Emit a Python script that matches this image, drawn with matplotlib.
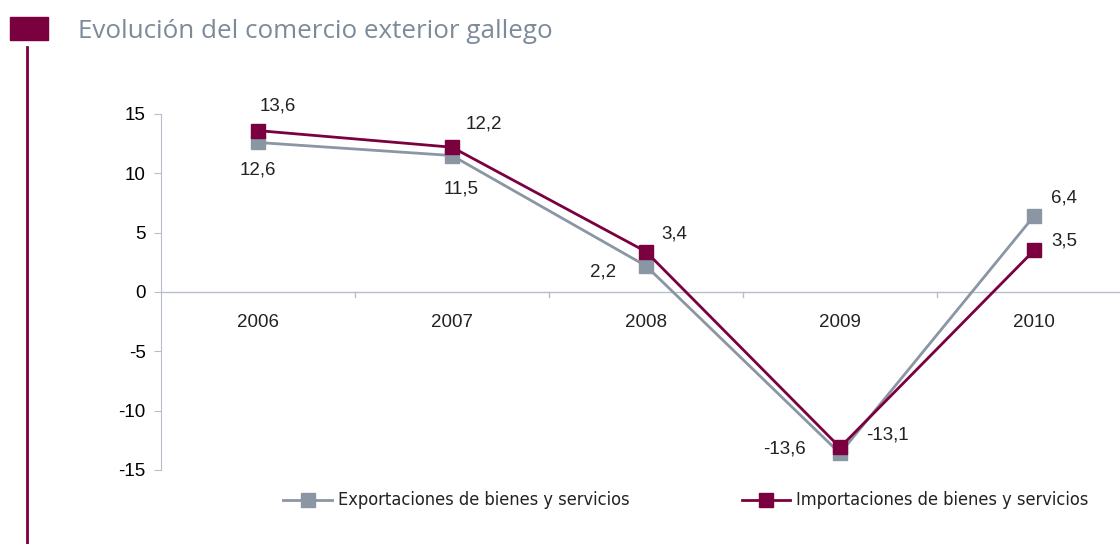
import matplotlib
matplotlib.use('Agg')
import matplotlib.pyplot as plt
from matplotlib.patches import Rectangle
from matplotlib.lines import Line2D

years = ['2006', '2007', '2008', '2009', '2010']
exportaciones = [12.6, 11.5, 2.2, -13.6, 6.4]
importaciones = [13.6, 12.2, 3.4, -13.1, 3.5]
export_labels = ['12,6', '11,5', '2,2', '-13,6', '6,4']
import_labels = ['13,6', '12,2', '3,4', '-13,1', '3,5']

# label offsets in pixels (dx, dy)
export_off = [(0, -28), (9, -33), (-43, -6), (-56, 4), (30, 18)]
import_off = [(20, 25), (32, 23), (28, 18), (47, 12), (30, 9)]

gris = '#8a96a3'
granate = '#7a0040'
eje = '#b8bdcc'

plt.rcParams['font.family'] = ['Liberation Sans', 'DejaVu Sans']
plt.rcParams['axes.unicode_minus'] = False

fig = plt.figure(figsize=(11.2, 5.44), dpi=100)
ax = fig.add_axes([161/1120, 1 - 470/544, 970/1120, 356/544])

x = range(len(years))
ax.plot(x, exportaciones, color=gris, lw=2, marker='s', ms=10, label='Exportaciones de bienes y servicios', zorder=3)
ax.plot(x, importaciones, color=granate, lw=2, marker='s', ms=10, label='Importaciones de bienes y servicios', zorder=4)

for i in x:
    ax.annotate(export_labels[i], (i, exportaciones[i]), xytext=export_off[i], textcoords='offset pixels',
                ha='center', va='center', fontsize=13.5, color='#222222')
    ax.annotate(import_labels[i], (i, importaciones[i]), xytext=import_off[i], textcoords='offset pixels',
                ha='center', va='center', fontsize=13.5, color='#222222')

ax.set_xlim(-0.5, 4.5)
ax.set_ylim(-15, 15)
ax.set_yticks([-15, -10, -5, 0, 5, 10, 15])
ax.tick_params(axis='y', length=5, color=eje, labelsize=13.5, pad=6)
ax.set_xticks([])
for s in ['top', 'right', 'bottom']:
    ax.spines[s].set_visible(False)
ax.spines['left'].set_color(eje)
ax.axhline(0, color=eje, lw=1, zorder=1)
for b in [0.5, 1.5, 2.5, 3.5]:
    ax.plot([b, b], [0, -0.45], color=eje, lw=1, clip_on=False, zorder=1)
for i, yr in enumerate(years):
    ax.text(i, -2.6, yr, ha='center', va='center', fontsize=13.5, color='#222222')

# legend drawn by hand
for (x0, x1, col, txt) in [(283, 332, gris, 'Exportaciones de bienes y servicios'),
                           (742, 790, granate, 'Importaciones de bienes y servicios')]:
    yy = 1 - 500/544
    fig.add_artist(Line2D([x0/1120, x1/1120], [yy, yy], color=col, lw=2))
    fig.add_artist(Line2D([(x0 + x1)/2/1120], [yy], color=col, marker='s', ms=10))
    fig.text((x1 + 6)/1120, yy, txt, ha='left', va='center', fontsize=13.1, color='#222222',
             family='DejaVu Sans', stretch='condensed')

# header decoration
fig.add_artist(Rectangle((10/1120, 1 - 40/544), 38/1120, 23/544, color=granate, transform=fig.transFigure))
fig.add_artist(Line2D([27/1120, 27/1120], [0, 1 - 47/544], color=granate, lw=2))
fig.text(78/1120, 1 - 31/544, 'Evolución del comercio exterior gallego', ha='left', va='center',
         fontsize=18.7, color='#7d8a99', family=['Open Sans', 'DejaVu Sans'])

fig.savefig('out.png', dpi=100)
